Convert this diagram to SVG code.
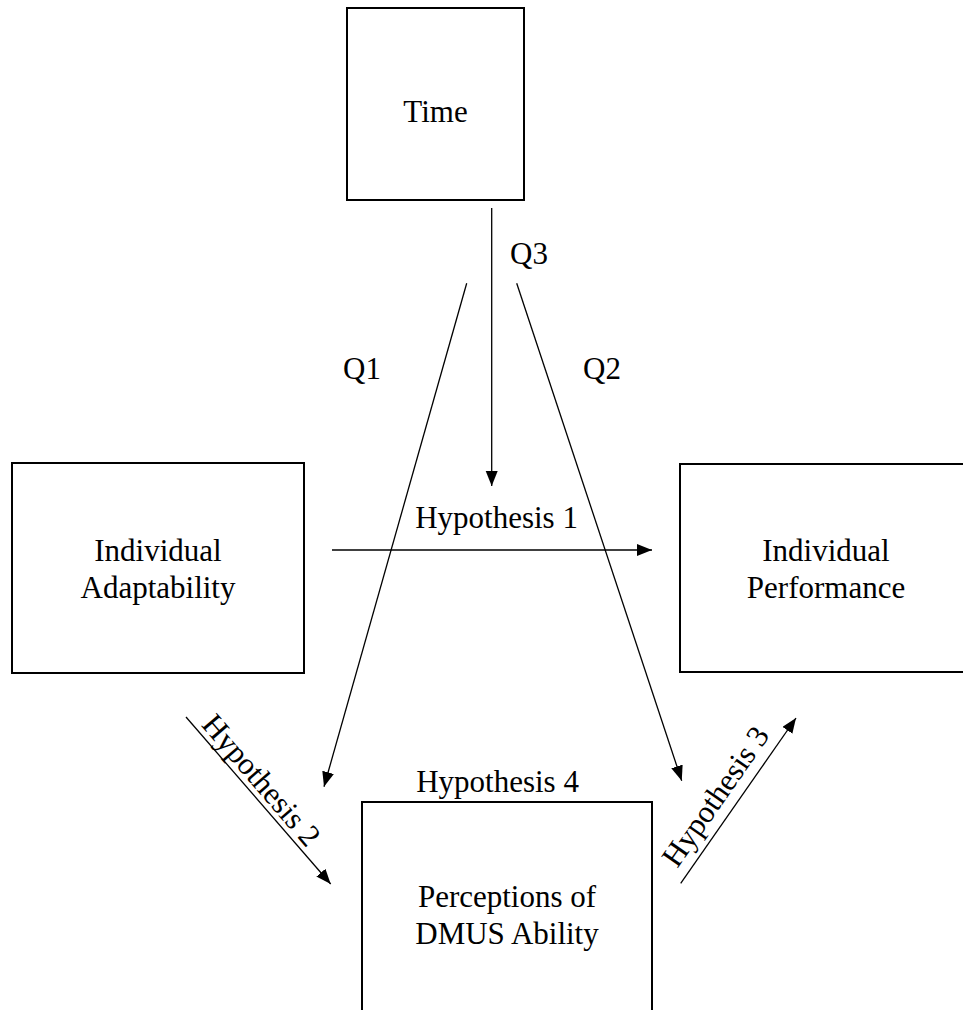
<svg xmlns="http://www.w3.org/2000/svg" width="963" height="1010" viewBox="0 0 963 1010">
  <style>
    .box { fill: #ffffff; stroke: #000000; stroke-width: 2; }
    .lbl { font-family: "Liberation Serif", "Times New Roman", serif; font-size: 31px; fill: #000000; }
    .mid { text-anchor: middle; }
    .conn { stroke: #000000; stroke-width: 1.3; fill: none; marker-end: url(#arrow); }
    .plain { stroke: #000000; stroke-width: 1.3; fill: none; }
  </style>
  <defs>
    <marker id="arrow" markerUnits="userSpaceOnUse" markerWidth="16" markerHeight="14" refX="15" refY="6" orient="auto">
      <path d="M0,0 L15,6 L0,12 Z" fill="#000000"/>
    </marker>
  </defs>
  <rect width="963" height="1010" fill="#ffffff"/>

  <g id="node-time">
    <rect class="box" x="347" y="8" width="177" height="192"/>
    <text class="lbl mid" x="435.5" y="122">Time</text>
  </g>

  <g id="node-adaptability">
    <rect class="box" x="12" y="463" width="292" height="210"/>
    <text class="lbl mid" x="158" y="561">Individual</text>
    <text class="lbl mid" x="158" y="598">Adaptability</text>
  </g>

  <g id="node-performance">
    <rect class="box" x="680" y="464" width="292" height="208"/>
    <text class="lbl mid" x="826" y="561">Individual</text>
    <text class="lbl mid" x="826" y="598">Performance</text>
  </g>

  <g id="node-dmus">
    <rect class="box" x="362" y="802" width="290" height="230"/>
    <text class="lbl mid" x="507" y="907">Perceptions of</text>
    <text class="lbl mid" x="507" y="944">DMUS Ability</text>
  </g>

  <g id="connectors">
    <line class="conn" x1="491.7" y1="208" x2="491.7" y2="486"/>
    <line class="conn" x1="466.7" y1="283.3" x2="324" y2="786.7"/>
    <line class="conn" x1="516.7" y1="283.3" x2="681.7" y2="780.7"/>
    <line class="conn" x1="332" y1="550" x2="652" y2="550"/>
    <line class="conn" x1="186" y1="717" x2="330.7" y2="884"/>
    <line class="conn" x1="680.7" y1="883.3" x2="796" y2="718"/>
  </g>

  <g id="labels">
    <text class="lbl" x="510" y="264">Q3</text>
    <text class="lbl" x="343" y="379">Q1</text>
    <text class="lbl" x="583" y="379">Q2</text>
    <text class="lbl mid" x="496.5" y="528">Hypothesis 1</text>
    <text class="lbl mid" x="497.5" y="792">Hypothesis 4</text>
    <text class="lbl mid" transform="translate(253.6,786.8) rotate(49.2)">Hypothesis 2</text>
    <text class="lbl mid" transform="translate(723.9,802.2) rotate(-55.1)">Hypothesis 3</text>
  </g>
</svg>
